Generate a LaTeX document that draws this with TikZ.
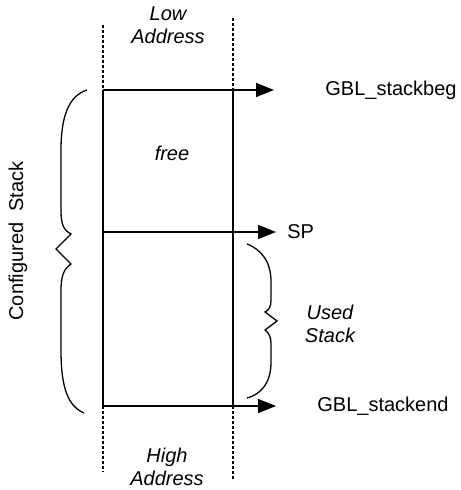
\documentclass[tikz,border=0pt]{standalone}
\usepackage{fontspec}
\setmainfont{Liberation Sans}
\usepackage{tikz}
\usetikzlibrary{positioning, arrows.meta, calc}

\begin{document}
\begin{tikzpicture}[x=0.5pt, y=-0.5pt]
		% Define styles
		\tikzset{
			label/.style={font=\fontsize{10}{11.5}\selectfont, inner sep=0pt},
			note/.style={label, font=\fontsize{10}{11.5}\selectfont\itshape, align=center},
			line/.style={draw, line width=0.75pt, -{Triangle[length=9pt, width=7pt]}},
			wall/.style={draw, line width=0.75pt},
			guide/.style={draw, dashed, dash pattern=on 1.5pt off 1pt, line width=0.55pt},
			curly/.style={draw, line width=0.65pt}
		}
		\useasboundingbox (0,0) rectangle (460,490);
		
		% Corners
		\coordinate (tl) at (103,90);
		\coordinate (tr) at (233,90);
		\coordinate (ml) at (103,232);
		\coordinate (mr) at (233,232);
		\coordinate (bl) at (103,406);
		\coordinate (br) at (233,406);
		
		% Arrow ends
		\coordinate (tip1) at (274,90);
		\coordinate (tip2) at (276,232);
		\coordinate (tip3) at (276,406);
		
		% Nodes
		\node[note] (low) at (168,25) {Low\\Address};
		\node[note] (free) at (172,153) {free};
		\node[note] (used) at (330,324) {Used\\Stack};
		\node[note] (high) at (167,467) {High\\Address};
		\node[label, anchor=west] (beg) at (325,90) {GBL\_stackbeg};
		\node[label, anchor=west] (sp) at (287,232) {SP};
		\node[label, anchor=west] (end) at (317,406) {GBL\_stackend};
		\node[label, rotate=90] (conf) at (18,241) {Configured\ \ Stack};
		
		% Guides
		\draw[guide] (103,25) -- (tl);
		\draw[guide] (233,18) -- (233,98);
		\draw[guide] (bl) -- (103,472);
		\draw[guide] (br) -- (233,479);
		
		% Box
		\draw[wall, line width=1pt] (tl) -- (tr);
		\draw[wall] (tr) -- (br) -- (bl) -- (tl);
		\draw[wall] (ml) -- (mr);
		
		% Arrows
		\draw[line] (tr) -- (tip1);
		\draw[line] (mr) -- (tip2);
		\draw[line] (br) -- (tip3);
		
		% Braces
		\draw[curly] (87,90) .. controls (68,96) and (61,118) .. (61,150) -- (61,212)
			.. controls (61,226) and (65,231) .. (71,234) -- (56,249) -- (71,264)
			.. controls (65,268) and (61,274) .. (61,290) -- (61,350)
			.. controls (61,388) and (68,406) .. (84,413);
		\draw[curly] (247,244) .. controls (262,250) and (271,262) .. (271,282) -- (271,300)
			.. controls (271,307) and (269,310) .. (265,312) -- (277,321) -- (265,330)
			.. controls (269,333) and (271,337) .. (271,344) -- (271,362)
			.. controls (271,382) and (262,394) .. (247,398);
	\end{tikzpicture}
\end{document}
